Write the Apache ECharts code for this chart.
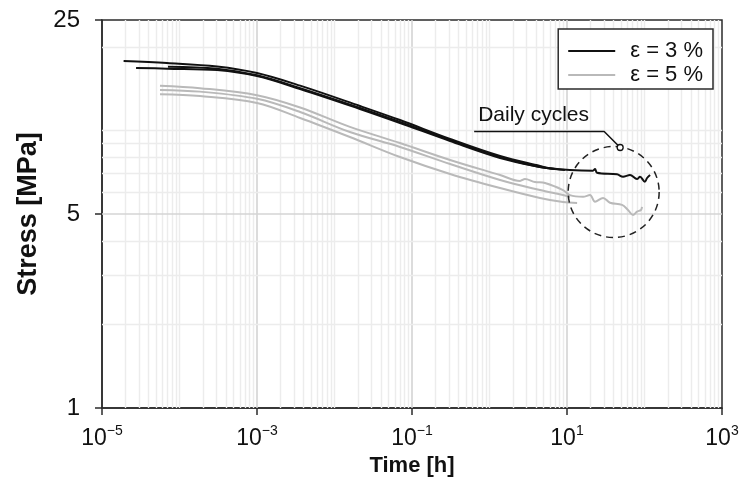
<!DOCTYPE html>
<html>
<head>
<meta charset="utf-8">
<script src="https://cdn.jsdelivr.net/npm/echarts@6.0.0/dist/echarts.min.js"></script>
<style>
  html, body { margin: 0; padding: 0; background: #fff; }
  #myChart { width: 745px; height: 486px; }
</style>
</head>
<body>
<div id="myChart"></div>
<script>
// time [h], stress [MPa]
var strain3a = [[1.9e-5, 17.8], [6.9e-5, 17.5], [3.05e-4, 17.0], [1e-3, 16.1], [3.6e-3, 14.5], [0.0213, 12.25], [0.07, 10.9], [0.31, 9.32], [1.37, 8.09], [4.48, 7.45], [6.04, 7.31], [10.9, 7.2], [21.6, 7.16], [23.0, 7.26], [24.4, 7.04], [44.2, 6.95], [52.8, 6.81], [65, 6.91], [80, 6.68], [87.5, 6.81], [101, 6.54], [108, 6.74], [118, 6.91]];
var strain3b = [[2.75e-5, 16.8], [6.9e-5, 16.7], [3.05e-4, 16.5], [1e-3, 15.7], [3.6e-3, 14.1], [0.0213, 11.95], [0.07, 10.64], [0.31, 9.16], [1.37, 7.96], [4.48, 7.38], [7.0, 7.26]];
var strain3c = [[7.1e-5, 16.97], [3.05e-4, 16.7], [1e-3, 15.8], [3.6e-3, 14.2], [0.0213, 12.05], [0.07, 10.73], [0.31, 9.24], [1.37, 8.02], [4.48, 7.38], [9.4, 7.2]];
var strain5a = [[5.6e-5, 14.5], [1.84e-4, 14.2], [1e-3, 13.4], [3.6e-3, 12.1], [0.0158, 10.3], [0.07, 9.01], [0.31, 7.83], [1.37, 6.91], [2.48, 6.58], [2.87, 6.68], [3.86, 6.52], [5.2, 6.47], [8.88, 6.1], [10.9, 5.85], [16.1, 5.77], [19.8, 5.85], [23, 5.54], [29.2, 5.71], [35.9, 5.49], [51.3, 5.39], [61.2, 5.17], [71.1, 4.96], [80, 5.1], [90.2, 5.17], [92.9, 5.3]];
var strain5b = [[5.6e-5, 14.0], [1.84e-4, 13.8], [1e-3, 13.0], [3.6e-3, 11.65], [0.0158, 9.87], [0.07, 8.72], [0.31, 7.57], [1.37, 6.63], [4.48, 6.1], [8.88, 5.85], [10.9, 5.76]];
var strain5c = [[5.6e-5, 13.5], [1.84e-4, 13.3], [1e-3, 12.56], [3.6e-3, 11.09], [0.0158, 9.47], [0.07, 8.02], [0.31, 6.97], [1.37, 6.2], [4.48, 5.71], [8.88, 5.52], [13.5, 5.48]];

var legendNames = ["ε = 3 %", "ε = 5 %"];

// grid lines
var xDecades = [-5, -4, -3, -2, -1, 0, 1, 2];
var xMinorMult = [1, 2, 3, 4, 5, 6, 7, 8, 9];
var xMajorGrid = [1e-3, 1e-1, 10];
var yMinorGrid = [2, 3, 4, 6, 7, 8, 9, 10, 20];
var yMajorGrid = [5];

// annotation ("Daily cycles" circle), in data units
var cycleCenter = [40, 6.0];

var FONT = "Liberation Sans, Arial, sans-serif";

var myChart = echarts.init(document.getElementById("myChart"));

var gridLines = [];
xDecades.forEach(function (d) {
  xMinorMult.forEach(function (m) {
    var v = m * Math.pow(10, d);
    if (d === -5 && m === 1) return;
    var major = xMajorGrid.some(function (g) { return Math.abs(g - v) / v < 1e-6; });
    gridLines.push({ xAxis: v, lineStyle: { color: major ? "#d4d4d4" : "#ececec", width: major ? 1.6 : 1.4, type: "solid" } });
  });
});
yMinorGrid.forEach(function (v) {
  gridLines.push({ yAxis: v, lineStyle: { color: "#ececec", width: 1.4, type: "solid" } });
});
yMajorGrid.forEach(function (v) {
  gridLines.push({ yAxis: v, lineStyle: { color: "#d4d4d4", width: 1.6, type: "solid" } });
});

function lineSeries(name, data, color) {
  return {
    name: name,
    type: "line",
    data: data,
    showSymbol: false,
    symbol: "none",
    smooth: 0.35,
    z: 3,
    lineStyle: { color: color, width: 2 },
    itemStyle: { color: color }
  };
}

var BLACK = "#111111";
var GRAY = "#b9b9b9";

var series = [
  {
    name: "grid",
    type: "line",
    data: [],
    silent: true,
    z: 1,
    markLine: {
      silent: true,
      z: 1,
      precision: 12,
      symbol: ["none", "none"],
      label: { show: false },
      animation: false,
      data: gridLines
    }
  },
  lineSeries(legendNames[1], strain5c, GRAY),
  lineSeries(legendNames[1], strain5b, GRAY),
  lineSeries(legendNames[1], strain5a, GRAY),
  lineSeries(legendNames[0], strain3b, BLACK),
  lineSeries(legendNames[0], strain3c, BLACK),
  lineSeries(legendNames[0], strain3a, BLACK)
];

var option = {
  animation: false,
  backgroundColor: "#fff",
  grid: {
    left: 102,
    right: 23,
    top: 20,
    bottom: 78,
    show: true,
    borderColor: "#2b2b2b",
    borderWidth: 1.5,
    backgroundColor: "transparent"
  },
  legend: {
    data: legendNames,
    orient: "vertical",
    right: 32,
    top: 29,
    icon: "rect",
    itemWidth: 47,
    itemHeight: 2,
    itemGap: 0,
    padding: [10, 10, 2, 10],
    borderColor: "#2b2b2b",
    borderWidth: 1.5,
    backgroundColor: "#fff",
    textStyle: { fontFamily: FONT, fontSize: 22, color: "#111", lineHeight: 24, padding: [0, 0, 0, 10] }
  },
  xAxis: {
    type: "log",
    logBase: 10,
    min: 1e-5,
    max: 1e3,
    interval: 2,
    name: "Time [h]",
    nameLocation: "middle",
    nameGap: 46,
    nameTextStyle: { fontFamily: FONT, fontSize: 22, fontWeight: "bold", color: "#111" },
    axisLine: { show: true, lineStyle: { color: "#2b2b2b", width: 1.5 } },
    axisTick: { show: true, inside: false, length: 7, lineStyle: { color: "#2b2b2b", width: 1.5 } },
    splitLine: { show: false },
    axisLabel: {
      margin: 16,
      color: "#111",
      formatter: function (v) {
        var e = Math.round(Math.log10(v));
        return "{b|10}{s|" + (e < 0 ? "−" + (-e) : e) + "}";
      },
      rich: {
        b: { fontFamily: FONT, fontSize: 23, color: "#111", lineHeight: 26, verticalAlign: "bottom" },
        s: { fontFamily: FONT, fontSize: 14, color: "#111", lineHeight: 26, verticalAlign: "top", padding: [0, 0, 10, 0] }
      }
    }
  },
  yAxis: {
    type: "log",
    logBase: 5,
    min: 1,
    max: 25,
    interval: 1,
    name: "Stress [MPa]",
    nameLocation: "middle",
    nameGap: 60,
    nameTextStyle: { fontFamily: FONT, fontSize: 27, fontWeight: "bold", color: "#111" },
    axisLine: { show: true, lineStyle: { color: "#2b2b2b", width: 1.5 } },
    axisTick: { show: true, inside: false, length: 7, lineStyle: { color: "#2b2b2b", width: 1.5 } },
    splitLine: { show: false },
    axisLabel: {
      margin: 22,
      fontFamily: FONT,
      fontSize: 24,
      color: "#111",
      formatter: function (v) { return String(Math.round(v)); }
    }
  },
  series: series
};

myChart.setOption(option);

// place the "Daily cycles" note around the circle centre
var c = myChart.convertToPixel({ gridIndex: 0 }, cycleCenter);
var r = 45.5;
myChart.setOption({
  graphic: [
    {
      type: "circle",
      shape: { cx: c[0], cy: c[1], r: r },
      style: { fill: "none", stroke: "#222", lineWidth: 1.5, lineDash: [7, 5] },
      z: 10
    },
    {
      type: "polyline",
      shape: { points: [[c[0] - 139.5, c[1] - 60.5], [c[0] - 9.5, c[1] - 60.5], [c[0] + 6.5, c[1] - 44.5]] },
      style: { fill: "none", stroke: "#111", lineWidth: 1.5 },
      z: 10
    },
    {
      type: "circle",
      shape: { cx: c[0] + 6.5, cy: c[1] - 44.5, r: 3 },
      style: { fill: "#fff", stroke: "#111", lineWidth: 1.3 },
      z: 11
    },
    {
      type: "text",
      x: c[0] - 135.5,
      y: c[1] - 66,
      style: { text: "Daily cycles", fontFamily: FONT, fontSize: 21, fill: "#111", textVerticalAlign: "bottom", verticalAlign: "bottom" },
      z: 10
    }
  ]
});

window.onresize = function () {
  myChart.resize();
};
</script>
</body>
</html>
